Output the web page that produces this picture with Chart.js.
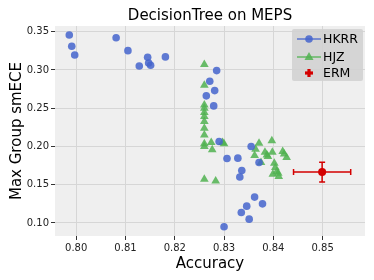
<!DOCTYPE html>
<html>
<head>
<meta charset="utf-8">
<script src="https://cdn.jsdelivr.net/npm/chart.js@4.4.0/dist/chart.umd.min.js"></script>
<style>
  html, body { margin: 0; padding: 0; background: #fff; }
  #wrap { width: 374px; height: 280px; }
</style>
</head>
<body>
<div id="wrap"><canvas id="chart" width="374" height="280"></canvas></div>
<script>
// values
const hkrrAcc = [0.7986, 0.7991, 0.7997, 0.8081, 0.8105, 0.8128, 0.8145, 0.8147, 0.8151, 0.8181,
                 0.8285, 0.8271, 0.8281, 0.8264, 0.8279, 0.8290, 0.8306, 0.8328, 0.8355, 0.8371,
                 0.8336, 0.8332, 0.8362, 0.8378, 0.8346, 0.8335, 0.8351, 0.8300];
const hkrrEce = [0.3457, 0.3310, 0.3196, 0.3420, 0.3252, 0.3052, 0.3166, 0.3091, 0.3061, 0.3170,
                 0.2991, 0.2852, 0.2730, 0.2661, 0.2530, 0.2064, 0.1842, 0.1847, 0.2000, 0.1790,
                 0.1685, 0.1600, 0.1338, 0.1250, 0.1220, 0.1137, 0.1050, 0.0951];

const hjzAcc = [0.8260, 0.8260, 0.8260, 0.8260, 0.8260, 0.8260, 0.8260, 0.8260, 0.8260, 0.8260,
                0.8260, 0.8274, 0.8276, 0.8260, 0.8283, 0.8297, 0.8300, 0.8371, 0.8397, 0.8364,
                0.8362, 0.8383, 0.8387, 0.8389, 0.8398, 0.8419, 0.8422, 0.8427, 0.8375, 0.8402,
                0.8404, 0.8399, 0.8407, 0.8411, 0.8410];
const hjzEce = [0.3070, 0.2800, 0.2543, 0.2500, 0.2443, 0.2390, 0.2325, 0.2239, 0.2151, 0.2034,
                0.2000, 0.2051, 0.1956, 0.1573, 0.1550, 0.2051, 0.2034, 0.2043, 0.2073, 0.1965,
                0.1881, 0.1925, 0.1890, 0.1868, 0.1925, 0.1933, 0.1903, 0.1855, 0.1790, 0.1782,
                0.1725, 0.1638, 0.1672, 0.1607, 0.1650];

const ermAcc = [0.8499];
const ermEce = [0.1665];
const ermAccErr = [0.0058];
const ermEceErr = [0.0128];

const xTicks = [0.80, 0.81, 0.82, 0.83, 0.84, 0.85];
const yTicks = [0.10, 0.15, 0.20, 0.25, 0.30, 0.35];

const seriesNames = ['HKRR', 'HJZ', 'ERM'];
const blue = 'rgba(68, 100, 204, 0.85)';
const green = 'rgba(80, 178, 80, 0.85)';
const red = '#d40000';

const toPoints = (xs, ys) => xs.map((x, i) => ({ x: x, y: ys[i] }));

const font = 'DejaVu Sans';

// grey panel behind the plot + error bars for ERM
const panelPlugin = {
    id: 'panel',
    beforeDraw(chart) {
        const a = chart.chartArea;
        const ctx = chart.ctx;
        ctx.save();
        ctx.fillStyle = '#efefef';
        ctx.fillRect(a.left, a.top, a.right - a.left, a.bottom - a.top);
        ctx.restore();
    },
    beforeDatasetsDraw(chart) {
        const ctx = chart.ctx;
        const xs = chart.scales.x, ys = chart.scales.y;
        ctx.save();
        ctx.strokeStyle = red;
        ctx.lineWidth = 1.5;
        ermAcc.forEach((v, i) => {
            const px = xs.getPixelForValue(v), py = ys.getPixelForValue(ermEce[i]);
            const x0 = xs.getPixelForValue(v - ermAccErr[i]), x1 = xs.getPixelForValue(v + ermAccErr[i]);
            const y0 = ys.getPixelForValue(ermEce[i] - ermEceErr[i]), y1 = ys.getPixelForValue(ermEce[i] + ermEceErr[i]);
            const cap = 3;
            ctx.beginPath();
            ctx.moveTo(x0, py); ctx.lineTo(x1, py);
            ctx.moveTo(px, y0); ctx.lineTo(px, y1);
            ctx.moveTo(x0, py - cap); ctx.lineTo(x0, py + cap);
            ctx.moveTo(x1, py - cap); ctx.lineTo(x1, py + cap);
            ctx.moveTo(px - cap, y0); ctx.lineTo(px + cap, y0);
            ctx.moveTo(px - cap, y1); ctx.lineTo(px + cap, y1);
            ctx.stroke();
        });
        ctx.restore();
    },
    afterDraw(chart) {
        const ctx = chart.ctx;
        const a = chart.chartArea;
        ctx.save();
        // title
        ctx.fillStyle = '#000';
        ctx.font = '15px "' + font + '"';
        ctx.textAlign = 'center';
        ctx.textBaseline = 'middle';
        ctx.fillText('DecisionTree on MEPS', (a.left + a.right) / 2, 16);

        // legend box
        const bx = 292, by = 29, bw = 71, bh = 52;
        ctx.fillStyle = 'rgba(210, 210, 210, 0.9)';
        ctx.beginPath();
        ctx.roundRect(bx, by, bw, bh, 2);
        ctx.fill();

        const rows = [39, 57, 73];
        const colors = [blue, green, red];
        rows.forEach((ry, i) => {
            const mx = 309;
            if (i < 2) {
                ctx.strokeStyle = colors[i];
                ctx.lineWidth = 1.5;
                ctx.beginPath();
                ctx.moveTo(297, ry); ctx.lineTo(321, ry);
                ctx.stroke();
            }
            ctx.fillStyle = colors[i];
            if (i === 0) {
                ctx.beginPath(); ctx.arc(mx, ry, 3.8, 0, Math.PI * 2); ctx.fill();
            } else if (i === 1) {
                ctx.beginPath();
                ctx.moveTo(mx, ry - 5); ctx.lineTo(mx + 4.5, ry + 3); ctx.lineTo(mx - 4.5, ry + 3);
                ctx.closePath(); ctx.fill();
            } else {
                ctx.fillRect(mx - 4, ry - 1.6, 8, 3.2);
                ctx.fillRect(mx - 1.6, ry - 4, 3.2, 8);
            }
            ctx.fillStyle = '#000';
            ctx.font = '12.5px "' + font + '"';
            ctx.textAlign = 'left';
            ctx.fillText(seriesNames[i], 323, ry + 1);
        });
        ctx.restore();
    }
};

new Chart(document.getElementById('chart').getContext('2d'), {
    type: 'scatter',
    data: {
        datasets: [
            {
                label: seriesNames[0],
                data: toPoints(hkrrAcc, hkrrEce),
                pointStyle: 'circle',
                pointRadius: 3.8,
                backgroundColor: blue,
                borderWidth: 0
            },
            {
                label: seriesNames[1],
                data: toPoints(hjzAcc, hjzEce),
                pointStyle: 'triangle',
                pointRadius: 5,
                backgroundColor: green,
                borderWidth: 0
            },
            {
                label: seriesNames[2],
                data: toPoints(ermAcc, ermEce),
                pointStyle: 'circle',
                pointRadius: 4,
                backgroundColor: red,
                borderWidth: 0
            }
        ]
    },
    options: {
        responsive: false,
        animation: false,
        layout: { padding: { left: 0, right: 9, top: 26, bottom: 0 } },
        plugins: {
            legend: { display: false },
            title: { display: false },
            tooltip: { enabled: false }
        },
        scales: {
            x: {
                type: 'linear',
                min: 0.7957,
                max: 0.8586,
                afterBuildTicks(scale) { scale.ticks = xTicks.map(v => ({ value: v })); },
                afterFit(scale) { scale.height = 44; },
                border: { display: false },
                grid: { color: '#d6d6d6', tickColor: '#333', tickLength: 4, lineWidth: 1 },
                ticks: {
                    color: '#222',
                    padding: 2,
                    font: { family: font, size: 10 },
                    callback: v => v.toFixed(2)
                },
                title: {
                    display: true,
                    text: 'Accuracy',
                    color: '#000',
                    font: { family: font, size: 15 },
                    padding: { top: 0, bottom: 7 }
                }
            },
            y: {
                type: 'linear',
                min: 0.083,
                max: 0.3574,
                afterBuildTicks(scale) { scale.ticks = yTicks.map(v => ({ value: v })); },
                afterFit(scale) { scale.width = 55; },
                border: { display: false },
                grid: { color: '#d6d6d6', tickColor: '#333', tickLength: 4, lineWidth: 1 },
                ticks: {
                    color: '#222',
                    padding: 2,
                    font: { family: font, size: 10 },
                    callback: v => v.toFixed(2)
                },
                title: {
                    display: true,
                    text: 'Max Group smECE',
                    color: '#000',
                    font: { family: font, size: 15 },
                    padding: { top: 8, bottom: 0 }
                }
            }
        }
    },
    plugins: [panelPlugin]
});
</script>
</body>
</html>
